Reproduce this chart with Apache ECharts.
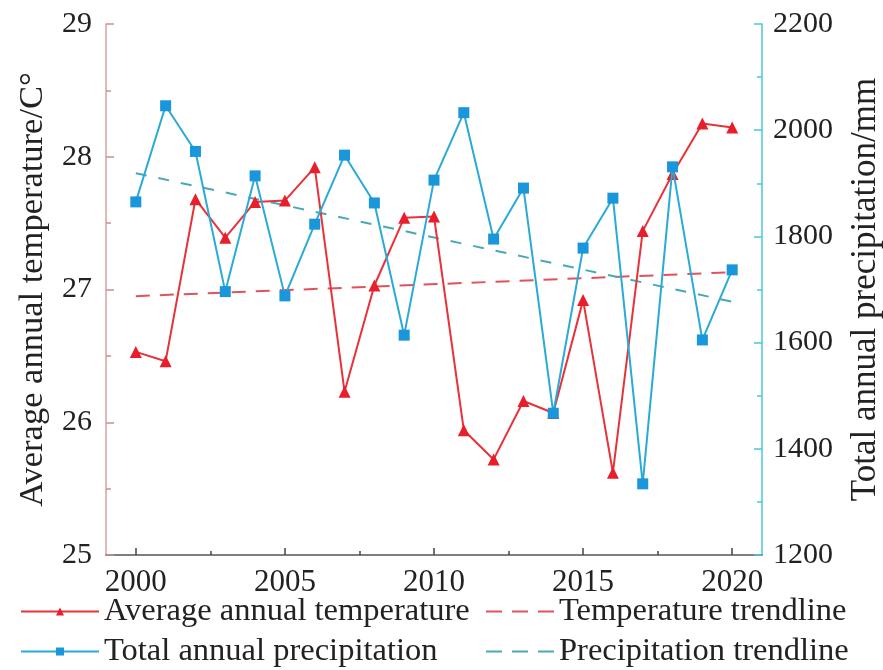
<!DOCTYPE html>
<html>
<head>
<meta charset="utf-8">
<script src="https://cdn.jsdelivr.net/npm/echarts@6/dist/echarts.min.js"></script>
<style>html,body{margin:0;padding:0;background:#fff;}#c{width:883px;height:670px;}</style>
</head>
<body>
<div id="c"></div>
<script>
var years = [2000,2001,2002,2003,2004,2005,2006,2007,2008,2009,2010,2011,2012,2013,2014,2015,2016,2017,2018,2019,2020];
var temperature = [26.53,26.46,27.68,27.39,27.66,27.67,27.92,26.23,27.03,27.54,27.55,25.94,25.72,26.16,26.07,26.92,25.62,27.44,27.87,28.25,28.22];
var precipitation = [1865,2046,1960,1696,1914,1688,1823,1953,1863,1614,1906,2033,1795,1891,1467,1778,1872,1334,1931,1605,1737];
var trendYears = [2000,2020];
var tempTrend = [26.95,27.13];
var precTrend = [1919,1677];
var xTickLabels = [2000,2005,2010,2015,2020];
var xMinorTicks = [2002.5,2007.5,2012.5,2017.5];

function pairs(xs, ys){ return xs.map(function(x,i){ return [x, ys[i]]; }); }
function plain(v){ return String(v); }

var FONT = 'Liberation Serif';
var legendText = {fontFamily: FONT, fontSize: 32.5, color: '#222'};
function leg(name, left, top, w, dashed){
  var l = {orient: 'horizontal', left: left, top: top, itemWidth: w, itemHeight: 10,
          padding: 0, textStyle: legendText, data: [name]};
  if (dashed) {
    l.itemStyle = {opacity: 0};
    l.lineStyle = {type: [16, 10], width: 2};
  }
  return l;
}
var chart = echarts.init(document.getElementById('c'));
chart.setOption({
  backgroundColor: '#fff',
  animation: false,
  grid: {left: 106, right: 121, top: 24, bottom: 115, outerBoundsMode: 'none', containLabel: false},
  legend: [
    leg('Average annual temperature', 20, 595, 78, false),
    leg('Total annual precipitation', 20, 635, 78, false),
    leg('Temperature trendline', 485, 595, 68, true),
    leg('Precipitation trendline', 485, 635, 68, true)
  ],
  xAxis: [
    {
      type: 'value', min: 1999, max: 2021,
      axisLine: {show: true, lineStyle: {color: '#555', width: 1.5}},
      axisTick: {show: true, inside: true, length: 7, customValues: xTickLabels, lineStyle: {color: '#444', width: 1.5}},
      axisLabel: {customValues: xTickLabels, formatter: plain, margin: 12, fontFamily: FONT, fontSize: 31, color: '#222'},
      splitLine: {show: false}
    },
    {
      type: 'value', min: 1999, max: 2021, position: 'bottom',
      axisLine: {show: false},
      axisTick: {show: true, inside: true, length: 4, customValues: xMinorTicks, lineStyle: {color: '#444', width: 1.5}},
      axisLabel: {show: false},
      splitLine: {show: false}
    }
  ],
  yAxis: [
    {
      type: 'value', min: 25, max: 29, interval: 1, position: 'left',
      name: 'Average annual temperature/C°', nameLocation: 'middle', nameGap: 56, nameRotate: 90,
      nameTextStyle: {fontFamily: FONT, fontSize: 34.5, color: '#222'},
      axisLine: {show: true, lineStyle: {color: '#d9a0a0', width: 1.5}},
      axisTick: {show: true, inside: true, length: 8, lineStyle: {color: '#c89090', width: 1.5}},
      minorTick: {show: true, splitNumber: 2, length: 5, lineStyle: {color: '#c89090', width: 1.5}},
      axisLabel: {formatter: plain, margin: 14, fontFamily: FONT, fontSize: 30, color: '#222'},
      splitLine: {show: false}
    },
    {
      type: 'value', min: 1200, max: 2200, interval: 200, position: 'right',
      name: 'Total annual precipitation/mm', nameLocation: 'middle', nameGap: 86, nameRotate: 90,
      nameTextStyle: {fontFamily: FONT, fontSize: 35, color: '#222'},
      axisLine: {show: true, lineStyle: {color: '#4cc6d8', width: 1.5}},
      axisTick: {show: true, inside: true, length: 8, lineStyle: {color: '#4cc6d8', width: 1.5}},
      minorTick: {show: true, splitNumber: 2, length: 5, lineStyle: {color: '#4cc6d8', width: 1.5}},
      axisLabel: {formatter: plain, margin: 11, fontFamily: FONT, fontSize: 30, color: '#222'},
      splitLine: {show: false}
    }
  ],
  series: [
    {
      name: 'Temperature trendline', type: 'line', xAxisIndex: 0, yAxisIndex: 0,
      data: pairs(trendYears, tempTrend), symbol: 'none',
      lineStyle: {color: '#e0525c', width: 2, type: [14, 10]}, itemStyle: {color: '#e0525c'}, z: 1
    },
    {
      name: 'Precipitation trendline', type: 'line', xAxisIndex: 0, yAxisIndex: 1,
      data: pairs(trendYears, precTrend), symbol: 'none',
      lineStyle: {color: '#4aa8b6', width: 2, type: [11, 12]}, itemStyle: {color: '#4aa8b6'}, z: 1
    },
    {
      name: 'Average annual temperature', type: 'line', xAxisIndex: 0, yAxisIndex: 0,
      data: pairs(years, temperature), symbol: 'triangle', symbolSize: 12,
      lineStyle: {color: '#e8323a', width: 2}, itemStyle: {color: '#e81e2a'}, z: 2
    },
    {
      name: 'Total annual precipitation', type: 'line', xAxisIndex: 0, yAxisIndex: 1,
      data: pairs(years, precipitation), symbol: 'rect', symbolSize: 11,
      lineStyle: {color: '#2aaad6', width: 2}, itemStyle: {color: '#1a96da'}, z: 3
    }
  ]
});
</script>
</body>
</html>
